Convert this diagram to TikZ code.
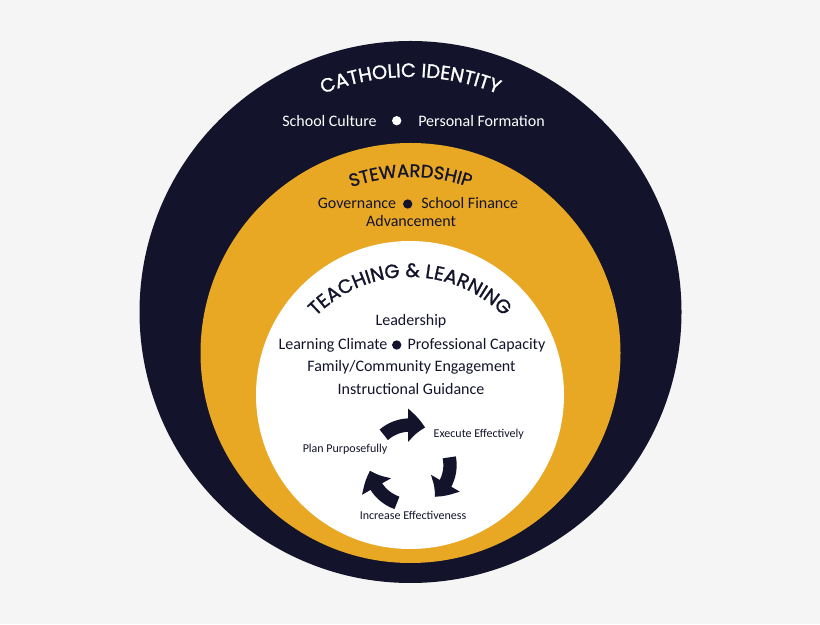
\documentclass[tikz,border=0pt]{standalone}
\usepackage{fontspec}
\setmainfont{Carlito}
\newfontfamily\titlefont[FakeBold=1.2]{Poppins}
\usetikzlibrary{arrows.meta,bending,decorations.text}
\definecolor{navy}{HTML}{13142C}
\definecolor{gold}{HTML}{E8A824}
\definecolor{bggrey}{HTML}{F5F5F5}
\begin{document}
\begin{tikzpicture}[x=0.75pt,y=0.75pt,
        txt/.style={font=\fontsize{12}{14}\selectfont,anchor=base,inner sep=0pt,text=navy},
        small/.style={font=\fontsize{9}{11}\selectfont,anchor=base,inner sep=0pt,text=navy},
        dot/.style={circle,fill=navy,minimum size=7pt,inner sep=0pt},
        cycarrow/.style={navy,line width=10pt,-{Triangle[width=24pt,length=13pt,bend]}}]
\fill[bggrey] (0,0) rectangle (820,624);
\useasboundingbox (0,0) rectangle (820,624);

\coordinate (ci) at (410.5,312);
\coordinate (st) at (410.5,271);
\coordinate (tl) at (410,229);
\coordinate (tlarc) at (410,215);
\coordinate (cyc) at (410,159);

\fill[navy] (ci) circle[radius=271];
\fill[gold] (st) circle[radius=210];
\fill[white] (tl) circle[radius=154];

% curved titles
\path[decorate,decoration={text along path,text align=center,
    text={|\titlefont\fontsize{14.5}{15}\selectfont\color{white}|CATHOLIC IDENTITY}}]
    ([shift={(140:235)}]ci) arc[start angle=140,end angle=40,radius=235];
\path[decorate,decoration={text along path,text align=center,
    text={|\titlefont\fontsize{13.5}{14}\selectfont\color{navy}|STEWARDSHIP}}]
    ([shift={(150:176)}]st) arc[start angle=150,end angle=30,radius=176];
\path[decorate,decoration={text along path,text align=center,
    text={|\titlefont\fontsize{14.5}{15}\selectfont\color{navy}|TEACHING {\&} LEARNING}}]
    ([shift={(175:132)}]tlarc) arc[start angle=175,end angle=5,radius=132];

\node[txt,text=white] (culture) at (329.5,497) {School Culture};
\node[dot,fill=white] (dotci) at (396.7,503.3) {};
\node[txt,text=white] (formation) at (481.5,497) {Personal Formation};

\node[txt] (governance) at (357,415) {Governance};
\node[dot] (dotst) at (407.7,420) {};
\node[txt] (finance) at (469.7,415) {School Finance};
\node[txt] (advancement) at (411,397) {Advancement};

\node[txt] (leadership) at (411,298) {Leadership};
\node[txt] (climate) at (333,274.7) {Learning Climate};
\node[dot] (dottl) at (396.7,279) {};
\node[txt] (capacity) at (476.5,274.7) {Professional Capacity};
\node[txt] (family) at (411.5,252.3) {Family/Community Engagement};
\node[txt] (guidance) at (411,229) {Instructional Guidance};

% cycle
\foreach \a in {131,11,-109}
    \draw[cycarrow] ([shift={(\a:40)}]cyc) arc[start angle=\a,end angle=\a-63,radius=40];
\node[small] (execute) at (478.7,186) {Execute Effectively};
\node[small] (plan) at (345,171) {Plan Purposefully};
\node[small] (increase) at (413,104) {Increase Effectiveness};
\end{tikzpicture}
\end{document}
